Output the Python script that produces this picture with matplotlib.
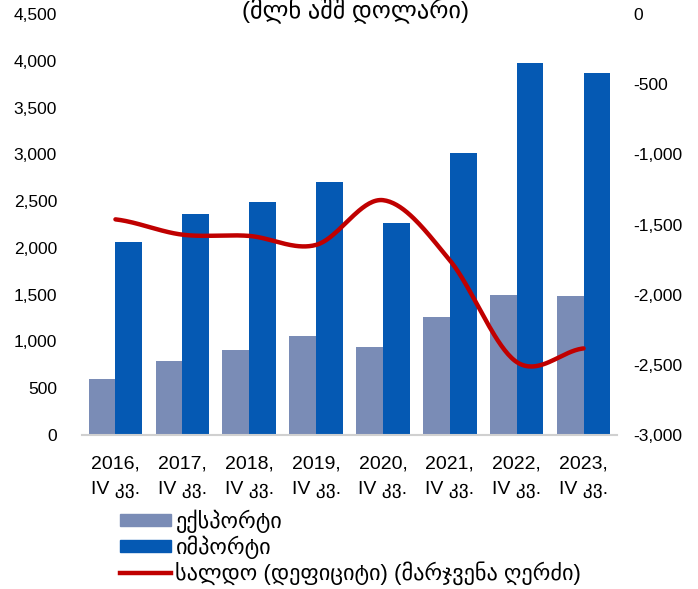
import matplotlib.pyplot as plt
import numpy as np
from matplotlib.lines import Line2D
from matplotlib.patches import Patch

plt.rcParams['font.family'] = ['Liberation Sans', 'DejaVu Sans']

years = ['2016', '2017', '2018', '2019', '2020', '2021', '2022', '2023']
quarter = 'IV კვ.'
exports = [600, 790, 910, 1060, 940, 1260, 1497, 1487]
imports = [2063, 2362, 2491, 2705, 2266, 3015, 3977, 3870]
balance = [-1463, -1572, -1581, -1645, -1326, -1755, -2480, -2383]

labels = ['ექსპორტი', 'იმპორტი', 'სალდო (დეფიციტი) (მარჯვენა ღერძი)']
title = '(მლნ აშშ დოლარი)'

c_exp = '#7a8cb6'
c_imp = '#0559b3'
c_bal = '#c00000'


def smooth(xs, ys, n=40):
    # catmull-rom style bezier, like the spreadsheet "smoothed line"
    xs = np.asarray(xs, float)
    ys = np.asarray(ys, float)
    px = np.concatenate([[2 * xs[0] - xs[1]], xs, [2 * xs[-1] - xs[-2]]])
    py = np.concatenate([[ys[0]], ys, [ys[-1]]])
    ox, oy = [], []
    t = np.linspace(0, 1, n)
    for i in range(1, len(px) - 2):
        p0 = np.array([px[i], py[i]])
        p3 = np.array([px[i + 1], py[i + 1]])
        p1 = p0 + (np.array([px[i + 1], py[i + 1]]) - np.array([px[i - 1], py[i - 1]])) / 6
        p2 = p3 - (np.array([px[i + 2], py[i + 2]]) - np.array([px[i], py[i]])) / 6
        b = ((1 - t) ** 3)[:, None] * p0 + (3 * (1 - t) ** 2 * t)[:, None] * p1 \
            + (3 * (1 - t) * t ** 2)[:, None] * p2 + (t ** 3)[:, None] * p3
        ox.extend(b[:, 0])
        oy.extend(b[:, 1])
    return ox, oy


fig = plt.figure(figsize=(6.98, 5.89), dpi=100)
ax1 = fig.add_axes([0.1175, 0.2615, 0.7665, 0.7145])
ax2 = ax1.twinx()

x = np.arange(len(years))
w = 0.4
ax1.bar(x - w / 2, exports, w, color=c_exp, zorder=2)
ax1.bar(x + w / 2, imports, w, color=c_imp, zorder=2)

sx, sy = smooth(x, balance)
ax2.plot(sx, sy, color=c_bal, lw=3.2, solid_capstyle='round')

ax1.set_xlim(-0.5, len(years) - 0.5)
ax1.set_ylim(0, 4500)
ax1.set_yticks(np.arange(0, 4501, 500))
ax1.set_yticklabels([f'{v:,}' for v in range(0, 4501, 500)])
ax2.set_ylim(-3000, 0)
ax2.set_yticks(np.arange(-3000, 1, 500))
ax2.set_yticklabels([f'{v:,}' for v in range(-3000, 1, 500)])

ax1.set_xticks(x)
ax1.set_xticklabels([f'{y},\n{quarter}' for y in years], linespacing=1.6)

for ax in (ax1, ax2):
    for s in ax.spines.values():
        s.set_visible(False)
    ax.tick_params(length=0, labelsize=12.5)
ax1.spines['bottom'].set_visible(True)
ax1.spines['bottom'].set_color('#d0d0d0')
ax1.spines['bottom'].set_linewidth(1.5)
ax1.tick_params(axis='y', pad=18)
ax1.tick_params(axis='x', pad=15, labelsize=14)
ax2.tick_params(axis='y', pad=12)

fig.text(0.51, 0.971, title, ha='center', va='baseline', fontsize=17.5)

handles = [Patch(color=c_exp), Patch(color=c_imp),
           Line2D([0], [0], color=c_bal, lw=3.2)]
fig.legend(handles, labels, loc='upper left', bbox_to_anchor=(0.159, 0.15),
           frameon=False, fontsize=16, handlelength=2.3, handleheight=0.45,
           handletextpad=0.2, labelspacing=0.12, borderaxespad=0)

fig.savefig('out.png', dpi=100)
